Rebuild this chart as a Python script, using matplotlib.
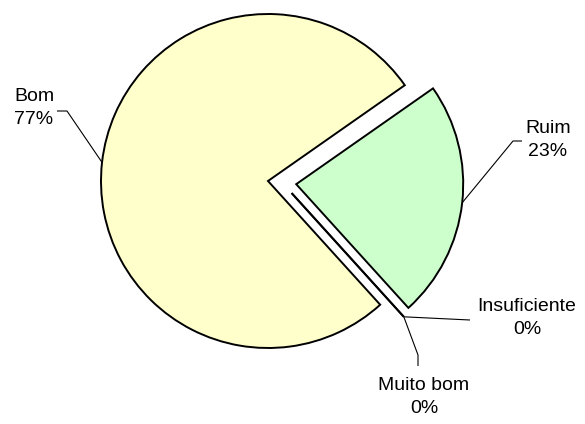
import matplotlib.pyplot as plt
import numpy as np

# slice data (order as drawn clockwise from the top-right edge)
labels = ['Ruim', 'Insuficiente', 'Muito bom', 'Bom']
values = [23, 0, 0, 77]
colors = ['#CCFFCC', '#CCFFCC', '#FFFFCC', '#FFFFCC']
explode = [0.17, 0, 0, 0]

plt.rcParams['font.family'] = ['Liberation Sans', 'DejaVu Sans']

fig = plt.figure(figsize=(5.85, 4.24), dpi=100)
ax = fig.add_axes([0, 0, 1, 1])

# pie laid out in pixel space (y up)
cx, cy, r = 268, 243, 167
wedges, _ = ax.pie(values, colors=colors, explode=[e * r for e in explode],
                   startangle=35, counterclock=False, radius=r, center=(cx, cy),
                   wedgeprops=dict(edgecolor='black', linewidth=1.4))
ax.set_xlim(0, 585)
ax.set_ylim(0, 424)
ax.set_aspect('equal')
ax.set_axis_off()

# the two 0% slices sit in the gap between Bom and Ruim
c_bom = np.array(wedges[3].center)
c_ruim = np.array(wedges[0].center)
for w in wedges[1:3]:
    a = np.deg2rad(w.theta1)
    w.set_center(tuple((c_bom + c_ruim) / 2 + 0.085 * r * np.array([np.cos(a), np.sin(a)])))
    w.set_zorder(3)


def rim_point(w):
    a = np.deg2rad((w.theta1 + w.theta2) / 2)
    x0, y0 = w.center
    return x0 + w.r * np.cos(a), y0 + w.r * np.sin(a)


# leader knees, ends and label centres (pixel layout)
leaders = {
    'Bom':          [(67, 313), (57, 313)],
    'Ruim':         [(513, 283), (522, 283)],
    'Insuficiente': [(470, 104)],
    'Muito bom':    [(418, 69), (418, 58)],
}
label_pos = {
    'Bom': (34, 316),
    'Ruim': (548, 284),
    'Insuficiente': (527, 106),
    'Muito bom': (424, 27),
}
pct = {lab: v / sum(values) * 100 for lab, v in zip(labels, values)}

for w, lab in zip(wedges, labels):
    px, py = rim_point(w)
    pts = [(px, py)] + leaders[lab]
    ax.plot([p[0] for p in pts], [p[1] for p in pts], color='black', lw=0.8,
            zorder=4, solid_capstyle='butt')
    tx, ty = label_pos[lab]
    ax.text(tx, ty, f'{lab}\n{pct[lab]:.0f}%', ha='center', va='center',
            fontsize=14, linespacing=1.45)

fig.savefig('out.png', dpi=100)
